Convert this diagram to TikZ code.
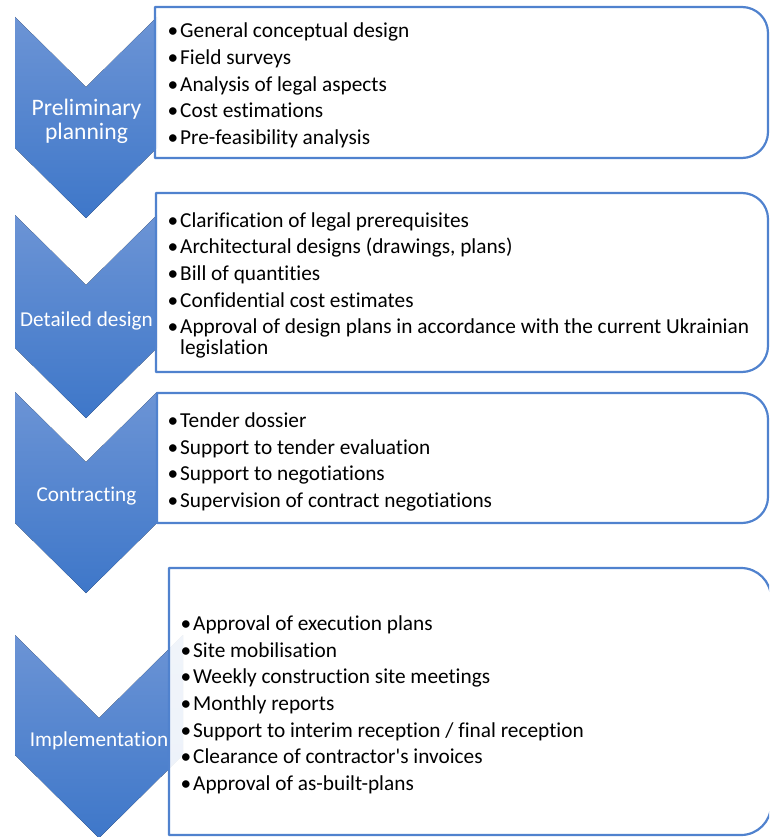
\documentclass[tikz,border=0pt]{standalone}
\usepackage{fontspec}
\setmainfont{Carlito}[Ligatures={TeXOff,CommonOff}]
\definecolor{chevtop}{RGB}{108,148,213}
\definecolor{chevbot}{RGB}{62,119,201}
\definecolor{boxline}{RGB}{80,130,206}
\tikzset{
  chev/.style={top color=chevtop, bottom color=chevbot, draw=none},
  itembox/.style={draw=boxline, line width=2.2pt, fill=white, fill opacity=0.9, line join=round},
  itemtxt/.style={anchor=base west, inner sep=0pt, font=\fontsize{21.3}{25}\selectfont, text=black},
  bul/.style={anchor=base, inner sep=0pt, font=\fontsize{21.3}{25}\selectfont, text=black},
  chevlbl/.style={anchor=base, inner sep=0pt, text=white, font=\fontsize{21.2}{25}\selectfont},
}
\newcommand{\chevron}[6]{% L R T d S name
  \fill[chev] (#1,#3) -- ({(#1+#2)/2},{#3+#4}) -- (#2,#3) -- (#2,#5) -- ({(#1+#2)/2},{#5+#4}) -- (#1,#5) -- cycle;
  \coordinate (#6) at ({(#1+#2)/2},{(#3+#5+#4)/2});
}
\newcommand{\rbox}[5]{% L T R B r
  \draw[itembox] (#1,#2) -- ({#3-#5},#2) arc[start angle=-90, end angle=0, radius=#5] -- (#3,{#4-#5}) arc[start angle=0, end angle=90, radius=#5] -- (#1,#4) -- cycle;
}
\begin{document}
\begin{tikzpicture}[x=1pt,y=-1pt]
\useasboundingbox (0,0) rectangle (769,837);
\clip (0,0) rectangle (769,837);
% chevrons
\chevron{15}{157}{17}{70}{148}{c1}
\chevron{15}{157}{215}{70}{348}{c2}
\chevron{15}{157}{392}{70}{523}{c3}
\chevron{15}{183}{635}{83}{755}{c4}
% boxes
\rbox{155}{7}{768}{158}{26}
\rbox{156}{193}{768}{372}{26}
\rbox{157}{393}{768}{523}{26}
\rbox{169}{568}{771}{835}{30}
% chevron labels
\node[chevlbl, font=\fontsize{23.6}{26}\selectfont] (l1a) at (86.5,116) {Preliminary};
\node[chevlbl, font=\fontsize{23.6}{26}\selectfont] (l1b) at (86.5,140) {planning};
\node[chevlbl] (l2) at (86.5,326) {Detailed design};
\node[chevlbl] (l3) at (86.5,501) {Contracting};
\node[chevlbl] (l4) at (99,746) {Implementation};
% box 1
\foreach \y/\t [count=\i] in {38/General conceptual design, 65/Field surveys, 92/Analysis of legal aspects, 118/Cost estimations, 145/Pre-feasibility analysis}{
  \node[bul] (b1\i) at (173,\y) {•};
  \node[itemtxt] (t1\i) at (180,\y) {\t};
}
% box 2
\foreach \y/\t [count=\i] in {227/Clarification of legal prerequisites, 253/{Architectural designs (drawings, plans)}, 280/Bill of quantities, 307/Confidential cost estimates, 333/Approval of design plans in accordance with the current Ukrainian}{
  \node[bul] (b2\i) at (173,\y) {•};
  \node[itemtxt] (t2\i) at (180,\y) {\t};
}
\node[itemtxt] (t26) at (180,354) {legislation};
% box 3
\foreach \y/\t [count=\i] in {427/Tender dossier, 454/Support to tender evaluation, 480/Support to negotiations, 507/Supervision of contract negotiations}{
  \node[bul] (b3\i) at (173,\y) {•};
  \node[itemtxt] (t3\i) at (180,\y) {\t};
}
% box 4
\foreach \y/\t [count=\i] in {630/Approval of execution plans, 657/Site mobilisation, 683/Weekly construction site meetings, 710/Monthly reports, 737/{Support to interim reception / final reception}, 763/Clearance of contractor's invoices, 790/Approval of as-built-plans}{
  \node[bul] (b4\i) at (186,\y) {•};
  \node[itemtxt] (t4\i) at (193,\y) {\t};
}
\end{tikzpicture}
\end{document}
